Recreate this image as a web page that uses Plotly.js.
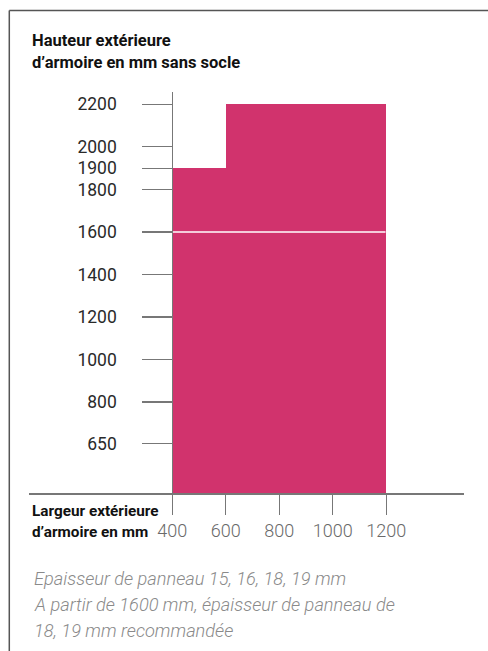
<!DOCTYPE html>
<html>
<head>
<meta charset="utf-8">
<script src="https://cdn.plot.ly/plotly-3.0.1.min.js"></script>
<style>
html,body{margin:0;padding:0;background:#fff;}
#chart{width:488px;height:651px;}
</style>
</head>
<body>
<div id="chart"></div>
<script>
// ---- data ----
const widthEdges = [400, 600, 1200];          // mm, bar edges along x
const heights = [1900, 2200];                  // mm, cabinet heights for each width band
const dividerHeight = 1600;                    // mm, white separation line
const xTickValues = [400, 600, 800, 1000, 1200];
const yTickValues = [650, 800, 1000, 1200, 1400, 1600, 1800, 1900, 2000, 2200];
const yAxisTitle = ["Hauteur extérieure", "d’armoire en mm sans socle"];
const xAxisTitle = ["Largeur extérieure", "d’armoire en mm"];
const notes = [
  "Epaisseur de panneau 15, 16, 18, 19 mm",
  "A partir de 1600 mm, épaisseur de panneau de",
  "18, 19 mm recommandée"
];

// ---- broken y scale (compressed below 800 mm, linear above) ----
const Y_KNOTS_MM  = [0, 650, 800];
const Y_KNOTS_POS = [372, 604, 800];
function yScale(v){
  if (v >= Y_KNOTS_MM[2]) return v;
  for (let i = 0; i < Y_KNOTS_MM.length - 1; i++){
    const a = Y_KNOTS_MM[i], b = Y_KNOTS_MM[i+1];
    if (v >= a && v <= b){
      return Y_KNOTS_POS[i] + (v - a) / (b - a) * (Y_KNOTS_POS[i+1] - Y_KNOTS_POS[i]);
    }
  }
  return Y_KNOTS_POS[0];
}

// ---- layout geometry (pixels) ----
const L = 29, R = 464, T = 92, B = 493;
const X_RANGE = [-135.7, 1490.5];
const Y_RANGE = [yScale(0), 2258];
const px = x => (x - L) / (R - L);
const py = y => (B - y) / (B - T);

const base = yScale(0);
const barTrace = {
  type: 'bar',
  x: heights.map((h, i) => (widthEdges[i] + widthEdges[i+1]) / 2),
  width: heights.map((h, i) => widthEdges[i+1] - widthEdges[i]),
  y: heights.map(h => yScale(h) - base),
  base: heights.map(() => base),
  marker: {color: '#D1336D', line: {width: 0}},
  hoverinfo: 'skip'
};
const dividerTrace = {
  type: 'scatter', mode: 'lines',
  x: [widthEdges[0], widthEdges[widthEdges.length - 1] - 3],
  y: [yScale(dividerHeight), yScale(dividerHeight)],
  line: {color: '#ffffff', width: 1.5},
  hoverinfo: 'skip'
};

const FONT = 'Roboto, "Liberation Sans", sans-serif';
const ann = [];
yAxisTitle.forEach((t, i) => ann.push({
  text: '<b>' + t + '</b>', xref: 'paper', yref: 'paper',
  x: px(29.5), y: py(40 + i * 22), xanchor: 'left', yanchor: 'middle',
  showarrow: false, font: {family: FONT, size: 16.5, color: '#111'}
}));
xAxisTitle.forEach((t, i) => ann.push({
  text: '<b>' + t + '</b>', xref: 'paper', yref: 'paper',
  x: px(29.5), y: py(511 + i * 21), xanchor: 'left', yanchor: 'middle',
  showarrow: false, font: {family: FONT, size: 15.3, color: '#111'}
}));
notes.forEach((t, i) => ann.push({
  text: '<i>' + t + '</i>', xref: 'paper', yref: 'paper',
  x: px(32), y: py(578 + i * 26), xanchor: 'left', yanchor: 'middle',
  showarrow: false, font: {family: FONT, size: 18.2, color: '#8a8a8a', weight: 300}
}));

const shapes = [
  {type: 'line', xref: 'paper', yref: 'paper', x0: px(9.3), x1: px(490), y0: py(10.5), y1: py(10.5),
   line: {color: '#555', width: 1.5}},
  {type: 'line', xref: 'paper', yref: 'paper', x0: px(9.3), x1: px(9.3), y0: py(10.5), y1: py(660),
   line: {color: '#555', width: 1.5}}
];

const layout = {
  width: 488, height: 651,
  margin: {l: L, r: 488 - R, t: T, b: 651 - B, pad: 0},
  paper_bgcolor: '#fff', plot_bgcolor: '#fff',
  showlegend: false,
  bargap: 0,
  xaxis: {
    range: X_RANGE, tickvals: xTickValues, ticktext: xTickValues.map(String),
    ticks: 'outside', ticklen: 20, tickwidth: 1.2, tickcolor: '#777',
    showline: true, linecolor: '#777', linewidth: 1.5,
    showgrid: false, zeroline: false, fixedrange: true,
    tickfont: {family: FONT, size: 18, color: '#6a6a6a', weight: 300},
    ticklabelstandoff: 1
  },
  yaxis: {
    range: Y_RANGE, anchor: 'free',
    position: (widthEdges[0] - X_RANGE[0]) / (X_RANGE[1] - X_RANGE[0]),
    tickvals: yTickValues.map(yScale), ticktext: yTickValues.map(String),
    ticks: 'outside', ticklen: 30, tickwidth: 1.2, tickcolor: '#777',
    showline: true, linecolor: '#777', linewidth: 1.2,
    showgrid: false, zeroline: false, fixedrange: true,
    tickfont: {family: FONT, size: 17.5, color: '#2a2a2a'},
    ticklabelstandoff: 22
  },
  annotations: ann,
  shapes: shapes
};

Plotly.newPlot('chart', [barTrace, dividerTrace], layout, {displayModeBar: false, staticPlot: true});
</script>
</body>
</html>
